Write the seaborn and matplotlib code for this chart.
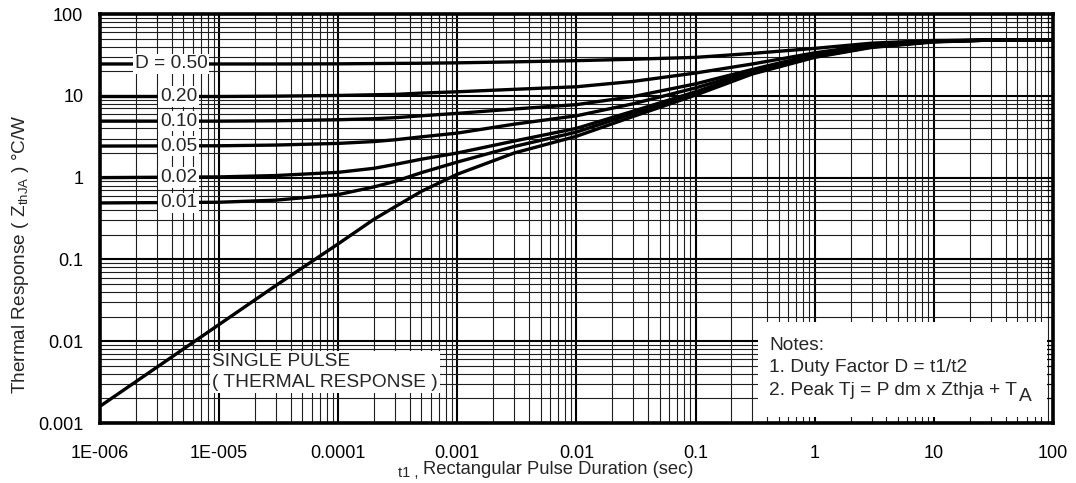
import numpy as np
import pandas as pd
import matplotlib
matplotlib.use("Agg")
import matplotlib.pyplot as plt
import seaborn as sns
from matplotlib.ticker import LogLocator, NullFormatter
from matplotlib.patches import Rectangle

# Pulse duration grid (s) shared by every curve
t_sec = [1e-6, 1e-5, 3e-5, 1e-4, 2e-4, 3e-4, 5e-4, 1e-3, 3e-3, 1e-2, 3e-2,
         0.1, 0.3, 1, 3, 10, 30, 100]

# Transient thermal impedance Z_thJA (°C/W) per duty factor
z_d050 = [24.5, 24.5, 24.5, 24.6, 24.8, 24.9, 25.0, 25.3, 26.0, 26.9, 28.0,
          29.5, 33.0, 38.0, 44.0, 47.5, 48.0, 48.0]
z_d020 = [9.8, 9.8, 9.9, 10.1, 10.3, 10.4, 10.8, 11.2, 12.0, 12.9, 15.0,
          19.0, 24.5, 33.5, 42.0, 47.0, 48.0, 48.0]
z_d010 = [4.9, 4.9, 4.95, 5.1, 5.25, 5.4, 5.7, 6.1, 6.9, 7.8, 9.8,
          14.0, 21.0, 32.0, 41.0, 46.5, 48.0, 48.0]
z_d005 = [2.43, 2.45, 2.5, 2.62, 2.76, 2.9, 3.15, 3.5, 4.5, 5.7, 8.0,
          12.5, 20.0, 31.0, 40.5, 46.5, 48.0, 48.0]
z_d002 = [1.0, 1.02, 1.06, 1.16, 1.3, 1.45, 1.68, 2.0, 2.8, 4.0, 6.5,
          11.2, 19.2, 30.5, 40.0, 46.0, 48.0, 48.0]
z_d001 = [0.49, 0.5, 0.53, 0.62, 0.77, 0.9, 1.15, 1.55, 2.4, 3.6, 6.1,
          10.7, 18.8, 30.0, 39.5, 46.0, 48.0, 48.0]
z_single = [0.0016, 0.016, 0.048, 0.155, 0.31, 0.44, 0.68, 1.1, 2.0, 3.2, 5.6,
            10.2, 18.5, 29.5, 39.0, 45.5, 48.0, 48.0]

curve_names = ["D = 0.50", "0.20", "0.10", "0.05", "0.02", "0.01", "single"]
curve_values = [z_d050, z_d020, z_d010, z_d005, z_d002, z_d001, z_single]

x_tick_values = [1e-6, 1e-5, 1e-4, 1e-3, 1e-2, 1e-1, 1, 10, 100]
x_tick_labels = ["1E-006", "1E-005", "0.0001", "0.001", "0.01", "0.1",
                 "1", "10", "100"]
y_tick_values = [1e-3, 1e-2, 1e-1, 1, 10, 100]
y_tick_labels = ["0.001", "0.01", "0.1", "1", "10", "100"]

df = pd.concat(
    [pd.DataFrame({"t": t_sec, "z": vals, "curve": name})
     for name, vals in zip(curve_names, curve_values)],
    ignore_index=True,
)

sns.set_style("white")
plt.rcParams["font.family"] = ["Liberation Sans", "DejaVu Sans"]
plt.rcParams["mathtext.fontset"] = "custom"
plt.rcParams["mathtext.rm"] = "Liberation Sans"
plt.rcParams["mathtext.it"] = "Liberation Sans:italic"

FS_TICK = 13
FS_NOTE = 13.8

fig = plt.figure(figsize=(10.76, 4.83), dpi=100)
ax = fig.add_axes([0.0929, 0.1242, 0.8857, 0.8468])

sns.lineplot(data=df, x="t", y="z", hue="curve", palette=["black"] * 7,
             estimator=None, legend=False, linewidth=2.4, ax=ax, zorder=2)

ax.set_xscale("log")
ax.set_yscale("log")
ax.set_xlim(1e-6, 100)
ax.set_ylim(1e-3, 100)

ax.set_xticks(x_tick_values, x_tick_labels)
ax.set_yticks(y_tick_values, y_tick_labels)
ax.xaxis.set_minor_locator(LogLocator(base=10, subs=np.arange(2, 10), numticks=200))
ax.yaxis.set_minor_locator(LogLocator(base=10, subs=np.arange(2, 10), numticks=200))
ax.xaxis.set_minor_formatter(NullFormatter())
ax.yaxis.set_minor_formatter(NullFormatter())
ax.set_xlabel("")
ax.set_ylabel("")

ax.tick_params(which="both", direction="in", top=True, right=True,
               color="black", labelsize=FS_TICK, labelcolor="black")
ax.tick_params(which="major", length=7, width=1.3)
ax.tick_params(which="minor", length=5, width=0.8)
ax.tick_params(axis="x", which="major", pad=15.5)
ax.tick_params(axis="y", which="major", pad=12)

ax.set_axisbelow(True)
ax.grid(which="major", color="black", linewidth=1.5)
ax.grid(which="minor", color="#1e1e1e", linewidth=0.8)

for sp in ax.spines.values():
    sp.set_visible(True)
    sp.set_color("black")
    sp.set_linewidth(2.6)

# Duty factor labels at the left end of each curve
box = dict(facecolor="white", edgecolor="none", pad=1.2)
ax.text(10 ** -5.706, z_d050[0], "D = 0.50", fontsize=FS_NOTE, ha="left",
        va="center", bbox=box, zorder=3)
for name, vals in zip(curve_names[1:6], curve_values[1:6]):
    ax.text(10 ** -5.496, vals[0], name, fontsize=FS_NOTE, ha="left",
            va="center", bbox=box, zorder=3)

ax.text(10 ** -5.06, 0.0042, "SINGLE PULSE\n( THERMAL RESPONSE )",
        fontsize=FS_NOTE, ha="left", va="center", linespacing=1.25,
        bbox=dict(facecolor="white", edgecolor="none", pad=1.5), zorder=3)

# Notes panel
ax.add_patch(Rectangle((0.690, 0.0147), 0.3037, 0.232, transform=ax.transAxes,
                       facecolor="white", edgecolor="none", zorder=1))
ax.text(0.702, 0.190, "Notes:", transform=ax.transAxes, fontsize=FS_NOTE,
        ha="left", va="center", zorder=3)
ax.text(0.702, 0.135, "1. Duty Factor D = t1/t2", transform=ax.transAxes,
        fontsize=FS_NOTE, ha="left", va="center", zorder=3)
peak = ax.text(0.702, 0.080, "2. Peak Tj = P dm x Zthja + T",
               transform=ax.transAxes, fontsize=FS_NOTE, ha="left",
               va="center", zorder=3)
ax.annotate("A", xy=(1, 0), xycoords=peak, xytext=(1.5, -1.5),
            textcoords="offset points", fontsize=FS_NOTE, ha="left",
            va="baseline", zorder=3)

# Axis titles
fig.text(0.0190, 0.474, r"Thermal Response ( Z$_{\mathregular{thJA}}$ ) °C/W",
         rotation=90, fontsize=13.7, ha="center", va="center")
fig.text(0.3700, 0.0124, "t1 ,", fontsize=10.5, ha="left", va="baseline")
fig.text(0.3931, 0.0186, "Rectangular Pulse Duration (sec)", fontsize=13.2,
         ha="left", va="baseline")

fig.savefig("out.png", dpi=100, facecolor="white")
